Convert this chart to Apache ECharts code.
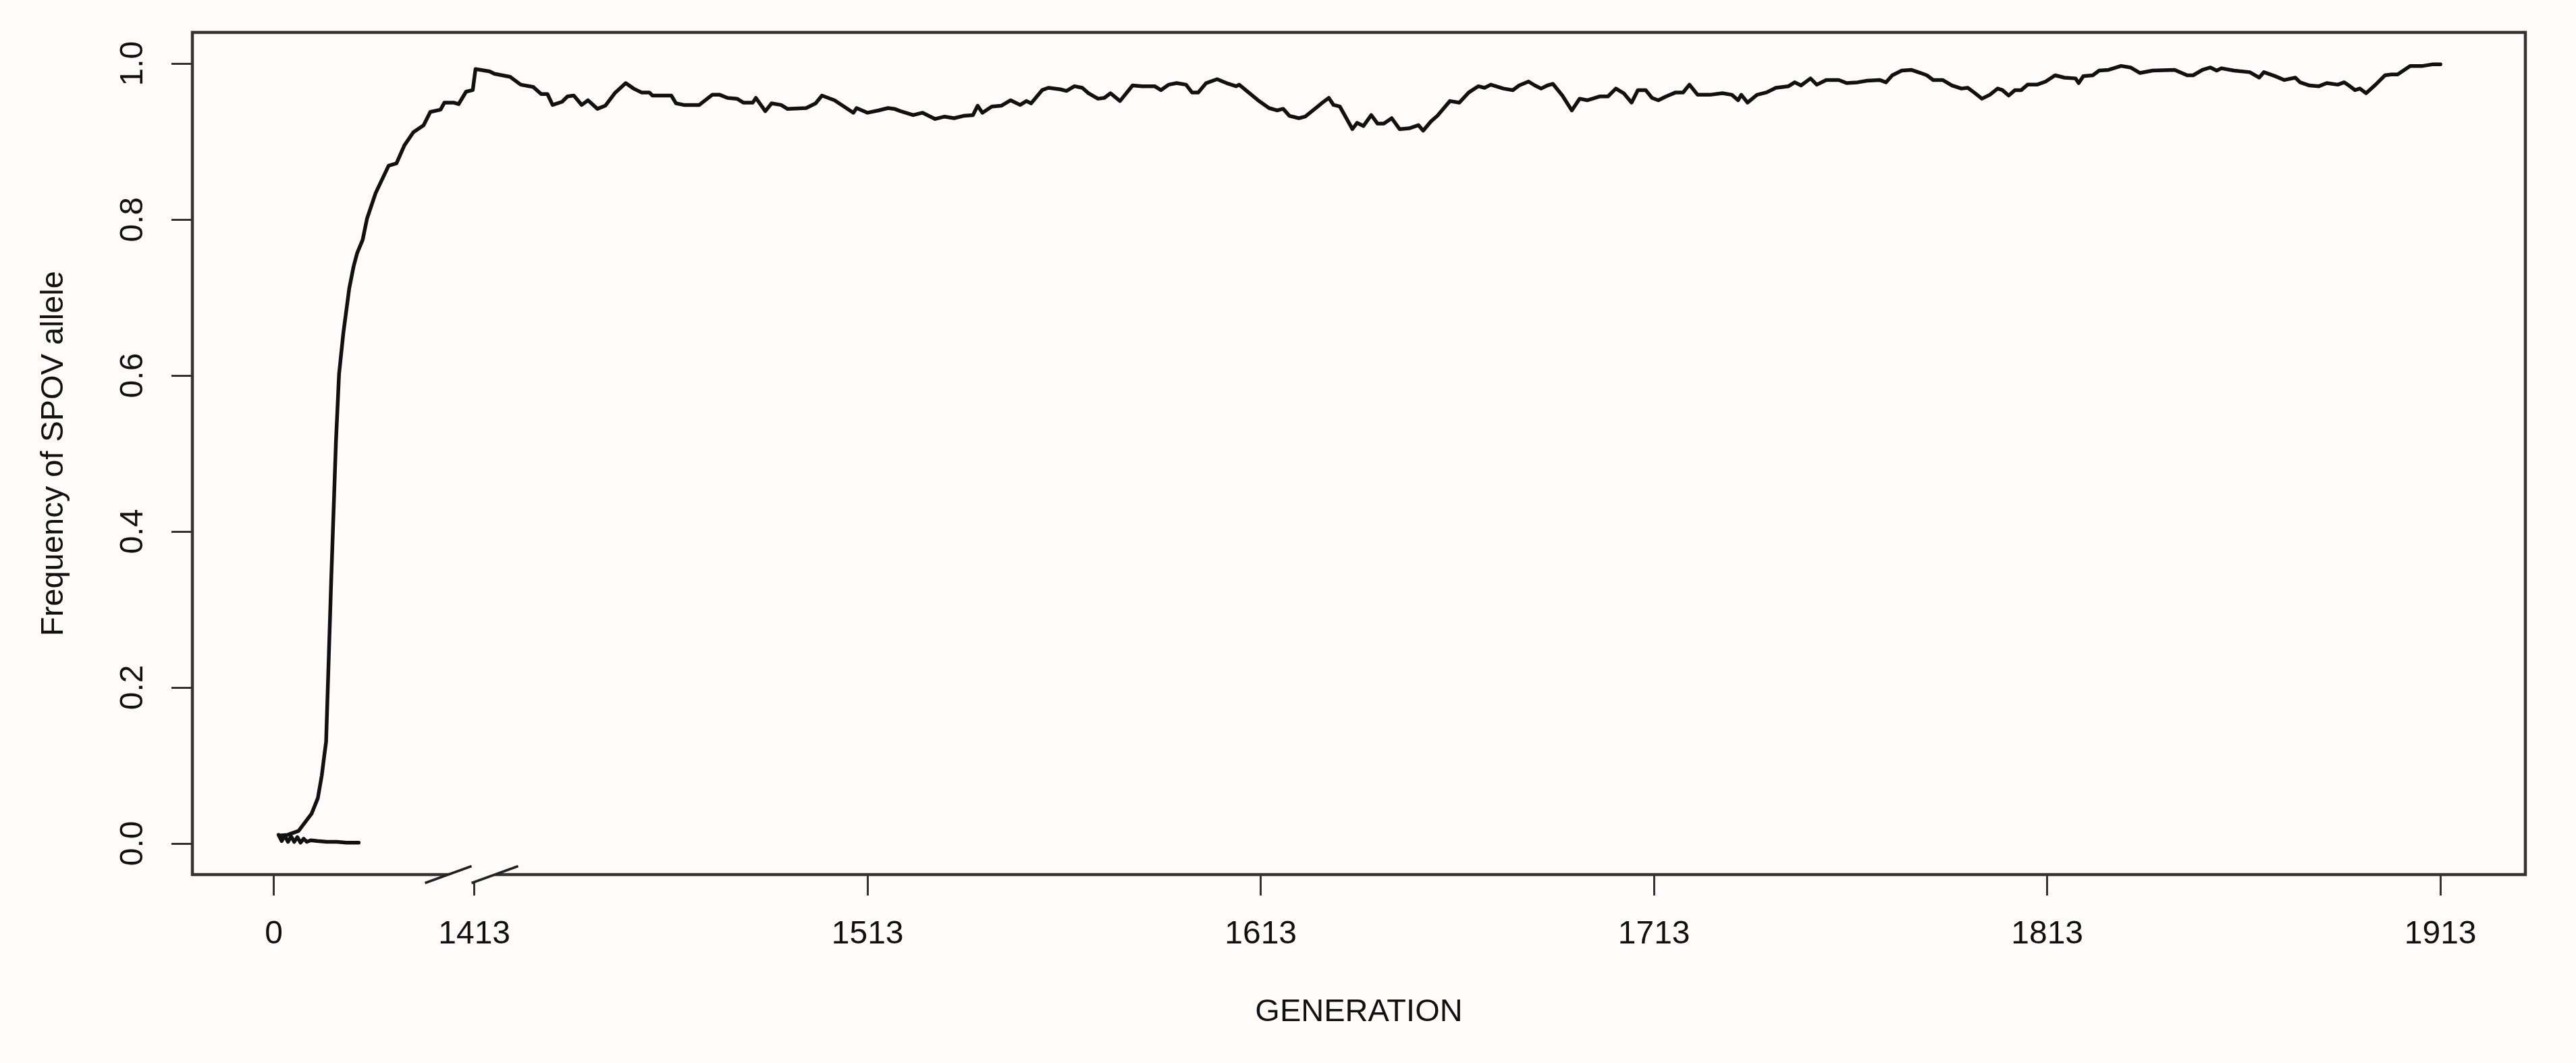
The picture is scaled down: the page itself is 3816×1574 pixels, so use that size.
<!DOCTYPE html>
<html>
<head>
<meta charset="utf-8">
<script src="https://cdn.jsdelivr.net/npm/echarts@6/dist/echarts.min.js"></script>
<style>
html,body{margin:0;padding:0;background:#fdfcfa;}
#c{width:3816px;height:1574px;}
</style>
</head>
<body>
<div id="c"></div>
<script>
// Plot positions along the broken GENERATION axis (label "0" sits at 1362)
const generationPos = [
1363.4,1365.5,1368.3,1371.6,1373.2,1374.2,1374.9,1375.3,1376.6,1377.8,1378.6,1379.7,1381.2,1382.3,1383.2,1384.6,1385.7,1387.9,1391.2,1393.2,1395.2,1397.5,1400.1,1401.8,1404.4,1405.4,1407.7,1409.0,1410.9,1412.6,1413.3,1416.9,1418.1,1422.1,1424.8,1428.0,1430.0,1431.6,1432.9,1435.3,
1436.7,1438.3,1440.3,1441.9,1444.3,1446.3,1448.7,1451.5,1453.5,1455.5,1457.5,1458.3,1463.1,1464.3,1466.3,1470.2,1473.5,1475.4,1477.4,1479.8,1481.4,1483.8,1484.6,1487.0,1488.6,1491.0,1492.6,1497.4,1499.8,1501.4,1504.6,1507.0,1509.4,1510.2,1513.0,1515.8,1518.2,1519.8,1521.4,1524.6,1527.0,1530.2,1532.6,1535.0,1537.4,1539.8,1541.0,1542.2,1544.6,1547.0,1549.4,1551.8,1553.4,1554.6,1557.4,1559.0,1562.0,
1563.6,1565.6,1567.6,1569.2,1571.6,1573.2,1574.8,1577.2,1580.4,1582.8,1586.0,1587.6,1589.6,1591.6,1594.0,1595.5,1597.1,1599.1,1601.9,1604.3,1606.7,1607.5,1609.9,1612.3,1615.1,1617.1,1618.7,1620.3,1622.7,1624.3,1627.5,1628.7,1630.3,1631.5,1633.1,1636.3,1637.5,1639.1,1641.1,1642.7,1644.3,1646.3,1648.3,1650.7,1653.1,1654.3,1656.3,1657.9,1661.1,1663.5,1665.9,1668.3,1669.9,1671.5,1674.7,1677.1,1678.7,1681.1,1682.7,1684.3,1685.9,1687.3,
1689.7,1692.1,1694.1,1696.1,1699.3,1701.3,1703.3,1705.3,1707.3,1708.9,1710.9,1712.5,1714.1,1716.1,1718.5,1720.4,1722.0,1724.1,1727.2,1730.4,1732.8,1734.4,1735.2,1736.8,1739.2,1741.6,1744.0,1747.2,1748.8,1750.4,1752.8,1754.4,1756.8,1760.0,1762.0,1764.8,1767.2,1770.4,1772.0,1773.6,1776.0,1778.4,1780.8,1782.4,1784.0,1786.4,1788.8,1791.2,1792.8,1794.4,1796.4,1798.4,1800.4,1801.6,1803.2,1804.8,1806.4,1808.0,1810.4,1812.6,
1815.0,1817.4,1820.2,1821.0,1822.2,1824.6,1826.2,1828.6,1831.8,1834.2,1836.6,1839.8,1845.4,1848.6,1850.1,1852.5,1854.5,1856.1,1857.3,1860.5,1864.5,1866.9,1868.1,1870.9,1873.3,1876.1,1877.3,1879.7,1882.1,1884.1,1886.9,1888.5,1889.7,1891.3,1892.5,1894.1,1896.5,1898.9,1900.5,1902.1,1905.3,1908.5,1910.9,1913.0
];
const spovFreq = [
0.010,0.011,0.016,0.038,0.058,0.087,0.115,0.130,0.337,0.514,0.602,0.655,0.712,0.740,0.757,0.774,0.801,0.834,0.869,0.872,0.895,0.912,0.921,0.938,0.941,0.950,0.950,0.948,0.964,0.966,0.993,0.990,0.987,0.983,0.973,0.970,0.961,0.961,0.947,0.951,
0.958,0.959,0.947,0.953,0.942,0.946,0.962,0.975,0.968,0.963,0.963,0.959,0.959,0.949,0.947,0.947,0.960,0.960,0.956,0.955,0.950,0.950,0.956,0.939,0.949,0.947,0.942,0.943,0.949,0.959,0.953,0.945,0.937,0.943,0.937,0.940,0.943,0.942,0.939,0.934,0.937,0.929,0.932,0.930,0.933,0.934,0.946,0.937,0.945,0.946,0.953,0.947,0.952,0.949,0.966,0.969,0.967,
0.965,0.971,0.969,0.962,0.955,0.956,0.962,0.952,0.972,0.971,0.971,0.966,0.973,0.975,0.973,0.963,0.963,0.975,0.980,0.975,0.971,0.973,0.963,0.953,0.943,0.940,0.942,0.933,0.930,0.932,0.945,0.950,0.956,0.947,0.945,0.916,0.924,0.920,0.934,0.923,0.923,0.930,0.916,0.917,0.921,0.914,0.926,0.933,0.952,0.950,0.963,0.971,0.969,0.973,0.968,0.966,0.972,0.977,0.972,0.968,0.972,0.974,
0.959,0.940,0.955,0.953,0.958,0.958,0.968,0.962,0.950,0.966,0.966,0.956,0.953,0.958,0.963,0.963,0.973,0.960,0.960,0.962,0.960,0.953,0.960,0.950,0.960,0.963,0.969,0.971,0.976,0.972,0.981,0.973,0.979,0.979,0.975,0.976,0.978,0.979,0.976,0.985,0.991,0.992,0.988,0.985,0.979,0.979,0.972,0.968,0.969,0.963,0.955,0.960,0.968,0.966,0.959,0.966,0.966,0.973,0.973,0.977,
0.985,0.982,0.981,0.975,0.984,0.985,0.991,0.992,0.997,0.995,0.988,0.991,0.992,0.985,0.985,0.992,0.995,0.991,0.994,0.991,0.989,0.982,0.989,0.984,0.979,0.982,0.976,0.972,0.971,0.975,0.973,0.976,0.972,0.966,0.968,0.962,0.973,0.985,0.986,0.986,0.997,0.997,0.999,0.999
];
// Short trajectory that is lost near zero at the start
const lostPos  = [1363.2,1364.0,1364.8,1365.6,1366.4,1367.2,1368.0,1368.8,1369.6,1370.4,1371.4,1373.0,1375.5,1378.0,1380.5,1383.6];
const lostFreq = [0.011,0.003,0.010,0.002,0.009,0.002,0.008,0.001,0.006,0.002,0.004,0.003,0.002,0.002,0.001,0.001];

const xTickPos    = [1362, 1413, 1513, 1613, 1713, 1813, 1913];
const xTickLabels = ['0', '1413', '1513', '1613', '1713', '1813', '1913'];
const yTickValues = [0, 0.2, 0.4, 0.6, 0.8, 1.0];
const breakPos = 1412.3;

const BG = '#fdfcfa';
const FONT = 'Liberation Sans, Arial, Helvetica, sans-serif';

const mainData = generationPos.map((g, i) => [g, spovFreq[i]]);
const lostData = lostPos.map((g, i) => [g, lostFreq[i]]);

const chart = echarts.init(document.getElementById('c'), null, {renderer: 'canvas'});
chart.setOption({
  animation: false,
  backgroundColor: BG,
  grid: {
    left: 285, right: 75, top: 48, bottom: 279,
    show: true, borderColor: '#333', borderWidth: 4.5, backgroundColor: BG,
    containLabel: false, outerBoundsMode: 'none'
  },
  xAxis: {
    type: 'value', min: 1341.3, max: 1934.6,
    name: 'GENERATION', nameLocation: 'middle', nameGap: 181,
    nameTextStyle: {fontFamily: FONT, fontSize: 47, color: '#111'},
    axisLine: {show: false, onZero: false},
    splitLine: {show: false},
    axisTick: {show: true, customValues: xTickPos, length: 31, lineStyle: {color: '#333', width: 3}},
    axisLabel: {
      customValues: xTickPos, margin: 65, fontFamily: FONT, fontSize: 48, color: '#111',
      formatter: v => { const i = xTickPos.indexOf(v); return i >= 0 ? xTickLabels[i] : ''; }
    }
  },
  yAxis: {
    type: 'value', min: -0.04, max: 1.04,
    name: 'Frequency of SPOV allele', nameLocation: 'middle', nameGap: 181, nameRotate: 90,
    nameTextStyle: {fontFamily: FONT, fontSize: 47, color: '#111'},
    axisLine: {show: false, onZero: false},
    splitLine: {show: false},
    axisTick: {show: true, customValues: yTickValues, length: 31, lineStyle: {color: '#333', width: 3}},
    axisLabel: {
      customValues: yTickValues, rotate: 90, margin: 63, fontFamily: FONT, fontSize: 48, color: '#111',
      formatter: v => v.toFixed(1)
    }
  },
  series: [
    {type: 'line', data: lostData, showSymbol: false, symbol: 'none',
     lineStyle: {color: '#111', width: 5.5, join: 'round', cap: 'round'}, z: 3},
    {type: 'line', data: mainData, showSymbol: false, symbol: 'none',
     lineStyle: {color: '#111', width: 5.5, join: 'round', cap: 'round'}, z: 4}
  ]
});

// axis break symbol ("//") on the bottom axis
const bx = chart.convertToPixel({xAxisIndex: 0}, breakPos);
const by = chart.convertToPixel({yAxisIndex: 0}, -0.04);
const w = 69, h = 12.5;
chart.setOption({
  graphic: [
    {type: 'polygon', z: 100, shape: {points: [[bx - w, by + h], [bx, by - h], [bx + w, by - h], [bx, by + h]]},
     style: {fill: BG}},
    {type: 'line', z: 101, shape: {x1: bx - w, y1: by + h, x2: bx, y2: by - h}, style: {stroke: '#222', lineWidth: 3.5}},
    {type: 'line', z: 101, shape: {x1: bx, y1: by + h, x2: bx + w, y2: by - h}, style: {stroke: '#222', lineWidth: 3.5}}
  ]
});
</script>
</body>
</html>
